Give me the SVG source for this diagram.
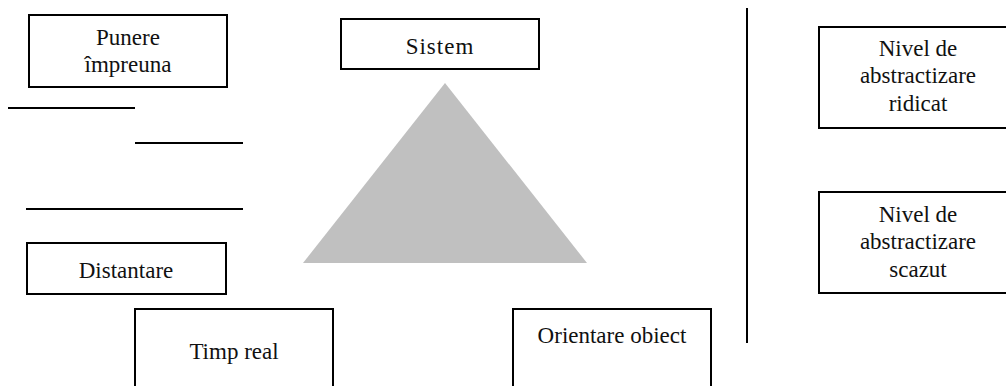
<svg xmlns="http://www.w3.org/2000/svg" width="1006" height="386" viewBox="0 0 1006 386">
  <style>
    .box { fill: #ffffff; stroke: #000000; stroke-width: 2; }
    .rule { stroke: #000000; stroke-width: 2; fill: none; }
    .lbl { font-size: 23px; fill: #111111; text-anchor: middle; }
  </style>
  <rect width="1006" height="386" fill="#ffffff"/>

  <!-- central pyramid -->
  <polygon id="pyramid" points="445,83 303,263 587,263" fill="#c0c0c0"/>

  <!-- free-standing rules and separator -->
  <g id="connectors">
    <line class="rule" x1="8" y1="108" x2="135" y2="108"/>
    <line class="rule" x1="135" y1="143" x2="243" y2="143"/>
    <line class="rule" x1="26" y1="209" x2="243" y2="209"/>
    <line class="rule" x1="747" y1="8" x2="747" y2="343"/>
  </g>

  <g font-family="'Liberation Serif', 'DejaVu Serif', serif">
    <g id="punere">
      <rect class="box" x="29" y="15" width="198" height="72"/>
      <text class="lbl" x="128" y="45">Punere</text>
      <text class="lbl" x="128" y="72">împreuna</text>
    </g>

    <g id="sistem">
      <rect class="box" x="341" y="19" width="198" height="50"/>
      <text class="lbl" x="440" y="54" letter-spacing="1">Sistem</text>
    </g>

    <g id="distantare">
      <rect class="box" x="27" y="243" width="199" height="51"/>
      <text class="lbl" x="126" y="278">Distantare</text>
    </g>

    <g id="timp-real">
      <rect class="box" x="135" y="309" width="198" height="100"/>
      <text class="lbl" x="234" y="359">Timp real</text>
    </g>

    <g id="orientare-obiect">
      <rect class="box" x="513" y="309" width="198" height="100"/>
      <text class="lbl" x="612" y="343">Orientare obiect</text>
    </g>

    <g id="nivel-ridicat">
      <rect class="box" x="819" y="27" width="198" height="101"/>
      <text class="lbl" x="918" y="56">Nivel de</text>
      <text class="lbl" x="918" y="83">abstractizare</text>
      <text class="lbl" x="918" y="111">ridicat</text>
    </g>

    <g id="nivel-scazut">
      <rect class="box" x="819" y="192" width="198" height="101"/>
      <text class="lbl" x="918" y="222">Nivel de</text>
      <text class="lbl" x="918" y="249">abstractizare</text>
      <text class="lbl" x="918" y="277">scazut</text>
    </g>
  </g>
</svg>
